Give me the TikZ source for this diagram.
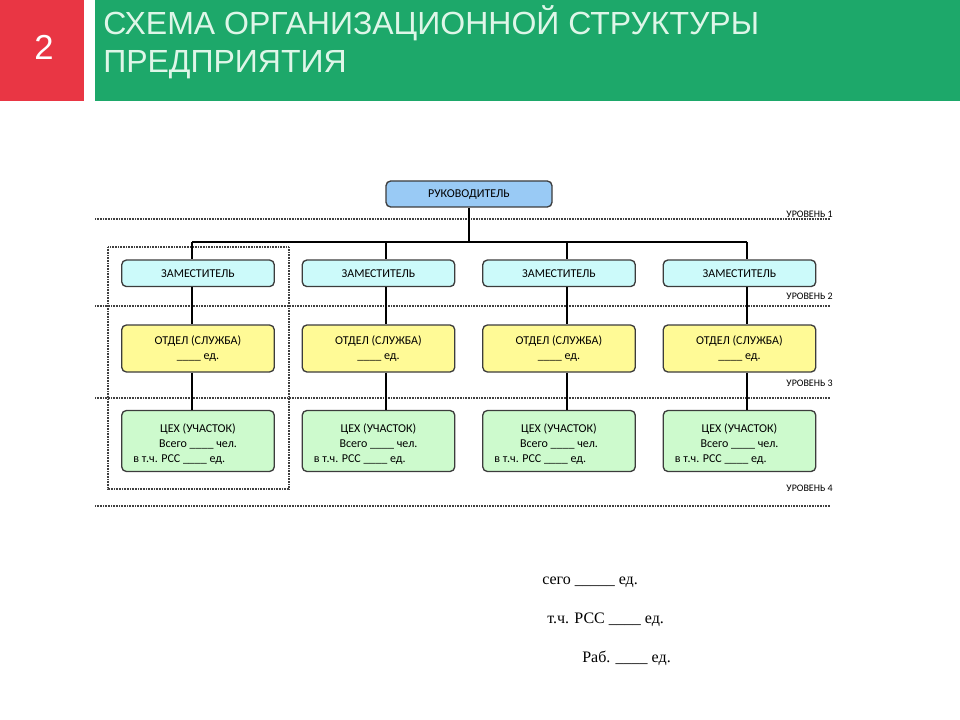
\documentclass[tikz,border=0pt]{standalone}
\usepackage{fontspec}
\setmainfont{Carlito}
\newfontfamily\headfont{Liberation Sans}
\newfontfamily\notefont{Liberation Serif}

\definecolor{slidered}{RGB}{233,54,68}
\definecolor{slidegreen}{RGB}{29,168,106}
\definecolor{headtext}{RGB}{222,246,232}
\definecolor{rukfill}{RGB}{153,202,245}
\definecolor{zamfill}{RGB}{204,250,250}
\definecolor{otdfill}{RGB}{255,250,150}
\definecolor{cehfill}{RGB}{205,250,205}
\definecolor{framegray}{RGB}{60,60,60}

\tikzset{
	orgbox/.style={draw=framegray, line width=1pt, rounded corners=3.5pt, align=center,
		inner sep=0pt, font=\fontsize{9}{11.4}\selectfont},
	rukbox/.style={orgbox, fill=rukfill, minimum width=124.5pt, minimum height=19.5pt, text depth=0pt},
	zambox/.style={orgbox, fill=zamfill, minimum width=114.4pt, minimum height=19.9pt},
	otdbox/.style={orgbox, fill=otdfill, minimum width=114.4pt, minimum height=35.25pt},
	cehbox/.style={orgbox, fill=cehfill, minimum width=114.4pt, minimum height=45.75pt},
	link/.style={draw=black, line width=0.9pt},
	levelline/.style={draw=black!75, line width=0.8pt, dash pattern=on 0.6pt off 0.6pt},
	levellabel/.style={anchor=east, inner sep=0pt, font=\fontsize{7.5}{9}\selectfont},
	notetext/.style={anchor=base west, inner sep=0pt, font=\notefont\fontsize{12}{14}\selectfont}
}

\begin{document}
\begin{tikzpicture}[x=0.75pt,y=0.75pt,yscale=-1]
	\useasboundingbox (0,0) rectangle (960,720);
	
	% header
	\fill [slidered] (0,0) rectangle (84,101);
	\fill [slidegreen] (95,0) rectangle (960,101);
	\node (num) [anchor=base, inner sep=0pt, text=white, font=\headfont\fontsize{26}{30}\selectfont] at (44,60) {2};
	\node (title1) [anchor=base west, inner sep=0pt, text=headtext, font=\headfont\fontsize{24}{28}\selectfont] at (103,35) {СХЕМА ОРГАНИЗАЦИОННОЙ СТРУКТУРЫ};
	\node (title2) [anchor=base west, inner sep=0pt, text=headtext, font=\headfont\fontsize{24}{28}\selectfont] at (103,73) {ПРЕДПРИЯТИЯ};
	
	% levels
	\foreach \ly/\ty/\n in {219/214/1, 306/296/2, 398/383/3, 506/488/4}{
		\draw [levelline] (95,\ly) -- (830,\ly);
		\node (lev\n) [levellabel] at (833,\ty) {УРОВЕНЬ \n};
	}
	
	% first column frame
	\draw [levelline] (108,247) rectangle (289,489);
	
	% head
	\node (ruk) [rukbox] at (469,194) {РУКОВОДИТЕЛЬ};
	
	% columns
	\foreach \cx/\ax/\i in {198/192/1, 378.5/386/2, 559/567/3, 739.5/747/4}{
		\coordinate (ax\i) at (\ax,242);
		\node (zam\i) [zambox] at (\cx,273.3) {ЗАМЕСТИТЕЛЬ};
		\node (otd\i) [otdbox] at (\cx,348.5) {ОТДЕЛ (СЛУЖБА)\\\_\_\_\_ ед.};
		\node (ceh\i) [cehbox] at (\cx,441) {\rule{0pt}{11pt}ЦЕХ (УЧАСТОК)\\Всего \_\_\_\_ чел.\\в т.ч. РСС \_\_\_\_ ед.\hspace*{28pt}};
		\draw [link] (ax\i) -- (ax\i |- zam\i.north);
		\draw [link] (ax\i |- zam\i.south) -- (ax\i |- otd\i.north);
		\draw [link] (ax\i |- otd\i.south) -- (ax\i |- ceh\i.north);
	}
	
	% bus
	\draw [link] (ruk.south) -- (ruk.south |- ax1);
	\draw [link] (ax1) -- (ax4);
	
	% notes
	\node (note1) [notetext] at (542,584) {сего \_\_\_\_\_ ед.};
	\node (note2) [notetext] at (547,623) {т.ч. РСС \_\_\_\_ ед.};
	\node (note3) [notetext] at (582,662) {Раб. \_\_\_\_ ед.};
	
\end{tikzpicture}
\end{document}
